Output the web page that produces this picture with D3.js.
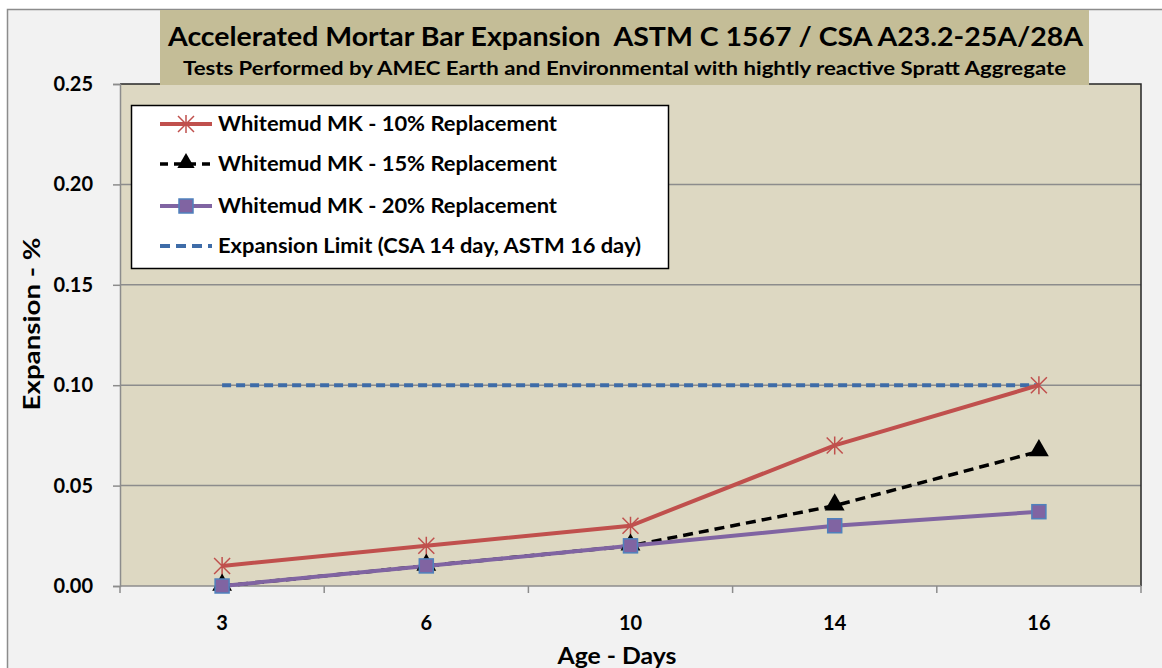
<!DOCTYPE html>
<html>
<head>
<meta charset="utf-8">
<script src="https://cdn.jsdelivr.net/npm/d3@7/dist/d3.min.js"></script>
<style>
  body { margin: 0; background: #fff; }
  text { font-family: Lato, "Open Sans", sans-serif; font-weight: bold; }
</style>
</head>
<body>
<div id="chart"></div>
<script>
// data
var days = ['3', '6', '10', '14', '16'];
var mk10 = [0.01, 0.02, 0.03, 0.07, 0.10];
var mk15 = [0.00, 0.01, 0.02, 0.04, 0.067];
var mk20 = [0.00, 0.01, 0.02, 0.03, 0.037];
var limit = [0.10, 0.10, 0.10, 0.10, 0.10];
var yTicks = [0, 0.05, 0.10, 0.15, 0.20, 0.25];
var seriesNames = ['Whitemud MK - 10% Replacement', 'Whitemud MK - 15% Replacement',
  'Whitemud MK - 20% Replacement', 'Expansion Limit (CSA 14 day, ASTM 16 day)'];

var width = 1162, height = 668;
var pLeft = 120, pRight = 1141, pTop = 84, pBottom = 586;

var svg = d3.select('#chart').append('svg')
  .attr('width', width).attr('height', height);

// chart area
svg.append('rect').attr('x', 7.5).attr('y', 9.5).attr('width', 1160).attr('height', 670)
  .attr('fill', '#f2f2f2').attr('stroke', '#8c8c8c').attr('stroke-width', 1.5);

var x = d3.scaleBand().domain(days).range([pLeft, pRight]);
var y = d3.scaleLinear().domain([0, 0.25]).range([pBottom, pTop]);

// plot area
svg.append('rect').attr('x', pLeft).attr('y', pTop).attr('width', pRight - pLeft).attr('height', pBottom - pTop)
  .attr('fill', '#ddd8c2');

// gridlines
svg.append('g').selectAll('line').data(yTicks.slice(1, 5)).enter().append('line')
  .attr('x1', pLeft).attr('x2', pRight)
  .attr('y1', function(d){ return y(d) }).attr('y2', function(d){ return y(d) })
  .attr('stroke', '#8c8c8c').attr('stroke-width', 1.5);

// border top / right
svg.append('path').attr('d', 'M' + pLeft + ',' + pTop + 'H' + pRight + 'V' + pBottom)
  .attr('fill', 'none').attr('stroke', '#262626').attr('stroke-width', 1.5);

// title box
svg.append('rect').attr('x', 160).attr('y', 10).attr('width', 929).attr('height', 75)
  .attr('fill', '#c4bd97');
svg.append('text').attr('x', 168).attr('y', 46)
  .attr('font-size', 27).attr('textLength', 915).attr('lengthAdjust', 'spacingAndGlyphs')
  .style('white-space', 'pre')
  .text('Accelerated Mortar Bar Expansion  ASTM C 1567 / CSA A23.2-25A/28A');
svg.append('text').attr('x', 183).attr('y', 75)
  .attr('font-size', 19).attr('textLength', 883).attr('lengthAdjust', 'spacingAndGlyphs')
  .text('Tests Performed by AMEC Earth and Environmental with hightly reactive Spratt Aggregate');

// axes
var yAxis = svg.append('g').attr('transform', 'translate(' + pLeft + ',0)')
  .call(d3.axisLeft(y).tickValues(yTicks).tickFormat(d3.format('.2f')).tickSize(7).tickPadding(20));
yAxis.selectAll('text').attr('font-size', 20).attr('fill', '#000').attr('font-family', null);
yAxis.selectAll('line').attr('stroke', '#8c8c8c').attr('stroke-width', 1.5);
yAxis.select('.domain').attr('stroke', '#8c8c8c').attr('stroke-width', 1.5);

var bounds = days.map(function(d){ return x(d) }).concat([pRight]);
var xAxisG = svg.append('g');
xAxisG.append('line').attr('x1', pLeft).attr('x2', pRight).attr('y1', pBottom).attr('y2', pBottom)
  .attr('stroke', '#8c8c8c').attr('stroke-width', 1.5);
xAxisG.selectAll('line.tk').data(bounds).enter().append('line').attr('class', 'tk')
  .attr('x1', function(d){ return d }).attr('x2', function(d){ return d })
  .attr('y1', pBottom).attr('y2', pBottom + 7).attr('stroke', '#8c8c8c').attr('stroke-width', 1.5);
xAxisG.selectAll('text').data(days).enter().append('text')
  .attr('x', function(d){ return x(d) + x.bandwidth() / 2 }).attr('y', 630)
  .attr('text-anchor', 'middle').attr('font-size', 20).text(function(d){ return d });

svg.append('text').attr('x', 617).attr('y', 664).attr('text-anchor', 'middle')
  .attr('font-size', 23).attr('textLength', 119).attr('lengthAdjust', 'spacingAndGlyphs')
  .text('Age - Days');
svg.append('text').attr('transform', 'translate(40,324) rotate(-90)').attr('text-anchor', 'middle')
  .attr('font-size', 23).attr('textLength', 173).attr('lengthAdjust', 'spacingAndGlyphs')
  .text('Expansion - %');

var cx = function(i){ return x(days[i]) + x.bandwidth() / 2 };
var line = d3.line().x(function(d, i){ return cx(i) }).y(function(d){ return y(d) });

var sLimit = { values: limit, color: '#3e6ca8', width: 4, dash: '9,5', marker: null };
var s10 = { values: mk10, color: '#c0504d', width: 4, dash: null, marker: 'star' };
var s15 = { values: mk15, color: '#000', width: 3.5, dash: '10,6', marker: 'triangle' };
var s20 = { values: mk20, color: '#8064a2', width: 4, dash: null, marker: 'square' };

function drawMarker(g, type, px, py, big) {
  if (type == 'star') {
    var s = 8;
    g.append('path').attr('d', 'M' + (px - s) + ',' + (py - s) + 'L' + (px + s) + ',' + (py + s) +
      'M' + (px - s) + ',' + (py + s) + 'L' + (px + s) + ',' + (py - s) +
      'M' + px + ',' + (py - s - 1) + 'V' + (py + s + 1))
      .attr('stroke', '#c0504d').attr('stroke-width', 1.5).attr('fill', 'none');
  } else if (type == 'square') {
    g.append('rect').attr('x', px - 7).attr('y', py - 7).attr('width', 14).attr('height', 14)
      .attr('fill', '#8064a2').attr('stroke', '#4f81bd').attr('stroke-width', 1.5);
  } else if (type == 'triangle') {
    g.append('path').attr('d', d3.symbol().type(d3.symbolTriangle).size(big ? 170 : 130)())
      .attr('transform', 'translate(' + px + ',' + (py - 1) + ')').attr('fill', '#000');
  }
}

// stack order: limit, 10%, 15% dashed, 20% on top
[sLimit, s10, s15, s20].forEach(function(s){
  svg.append('path').datum(s.values).attr('d', line)
    .attr('fill', 'none').attr('stroke', s.color).attr('stroke-width', s.width)
    .attr('stroke-dasharray', s.dash);
});
[s10, s15, s20].forEach(function(s){
  var g = svg.append('g');
  s.values.forEach(function(v, i){ drawMarker(g, s.marker, cx(i), y(v), true) });
});

// legend
svg.append('rect').attr('x', 131.5).attr('y', 105.5).attr('width', 537).attr('height', 163)
  .attr('fill', '#fff').attr('stroke', '#000').attr('stroke-width', 1.5);
var legendRows = [
  { name: seriesNames[0], s: s10, y: 124, w: 339 },
  { name: seriesNames[1], s: s15, y: 164, w: 339 },
  { name: seriesNames[2], s: s20, y: 206, w: 339 },
  { name: seriesNames[3], s: sLimit, y: 246, w: 423 }
];
legendRows.forEach(function(r){
  var g = svg.append('g');
  g.append('line').attr('x1', 160).attr('x2', 212).attr('y1', r.y).attr('y2', r.y)
    .attr('stroke', r.s.color).attr('stroke-width', r.s.width)
    .attr('stroke-dasharray', r.s.dash ? (r.s.marker ? '8,6' : '10,6') : null);
  if (r.s.marker) drawMarker(g, r.s.marker, 186, r.y, false);
  g.append('text').attr('x', 218).attr('y', r.y + 7).attr('font-size', 20)
    .attr('textLength', r.w).attr('lengthAdjust', 'spacingAndGlyphs').text(r.name);
});
</script>
</body>
</html>
